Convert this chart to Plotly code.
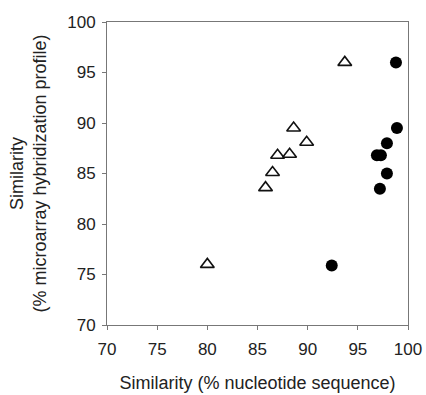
import plotly.graph_objects as go

# Open triangles
tri_x = [80.0, 85.8, 86.5, 87.0, 88.2, 88.6, 89.9, 93.7]
tri_y = [76.0, 83.6, 85.1, 86.8, 86.9, 89.5, 88.1, 96.0]
# Filled circles
cir_x = [92.4, 96.9, 97.3, 97.9, 98.8, 98.9, 97.9, 97.2]
cir_y = [75.9, 86.8, 86.8, 88.0, 96.0, 89.5, 85.0, 83.5]

x_ticks = [70, 75, 80, 85, 90, 95, 100]
y_ticks = [70, 75, 80, 85, 90, 95, 100]

x_title = "Similarity (% nucleotide sequence)"
y_title = "Similarity<br>(% microarray hybridization profile)"

FONT = "Arial, Liberation Sans, sans-serif"

fig = go.Figure()
fig.add_trace(go.Scatter(
    x=tri_x, y=tri_y, mode="markers",
    marker=dict(symbol="triangle-up-open", size=12, color="#111",
                line=dict(width=1.6, color="#111")),
    showlegend=False, cliponaxis=False))
fig.add_trace(go.Scatter(
    x=cir_x, y=cir_y, mode="markers",
    marker=dict(symbol="circle", size=12, color="#000",
                line=dict(width=0)),
    showlegend=False, cliponaxis=False))

axis_common = dict(
    showgrid=False, zeroline=False, showline=True, linecolor="#777",
    linewidth=1, mirror=True, ticks="outside", ticklen=4, tickcolor="#777",
    tickfont=dict(family=FONT, size=17, color="#222"),
)

fig.update_xaxes(range=[70, 100], tickvals=x_ticks, ticklabelstandoff=5,
                 title=dict(text=x_title, font=dict(family=FONT, size=18, color="#222"),
                            standoff=17),
                 **axis_common)
fig.update_yaxes(range=[70, 100], tickvals=y_ticks, ticklabelstandoff=3,
                 title=dict(text=y_title, font=dict(family=FONT, size=18, color="#222"),
                            standoff=15),
                 **axis_common)

fig.update_layout(
    width=426, height=395,
    margin=dict(l=107, r=18, t=22, b=70, autoexpand=False),
    plot_bgcolor="white", paper_bgcolor="white",
    font=dict(family=FONT),
)

fig.write_html("out.html", config={"displayModeBar": False},
               post_script="document.body.style.margin='0';")
